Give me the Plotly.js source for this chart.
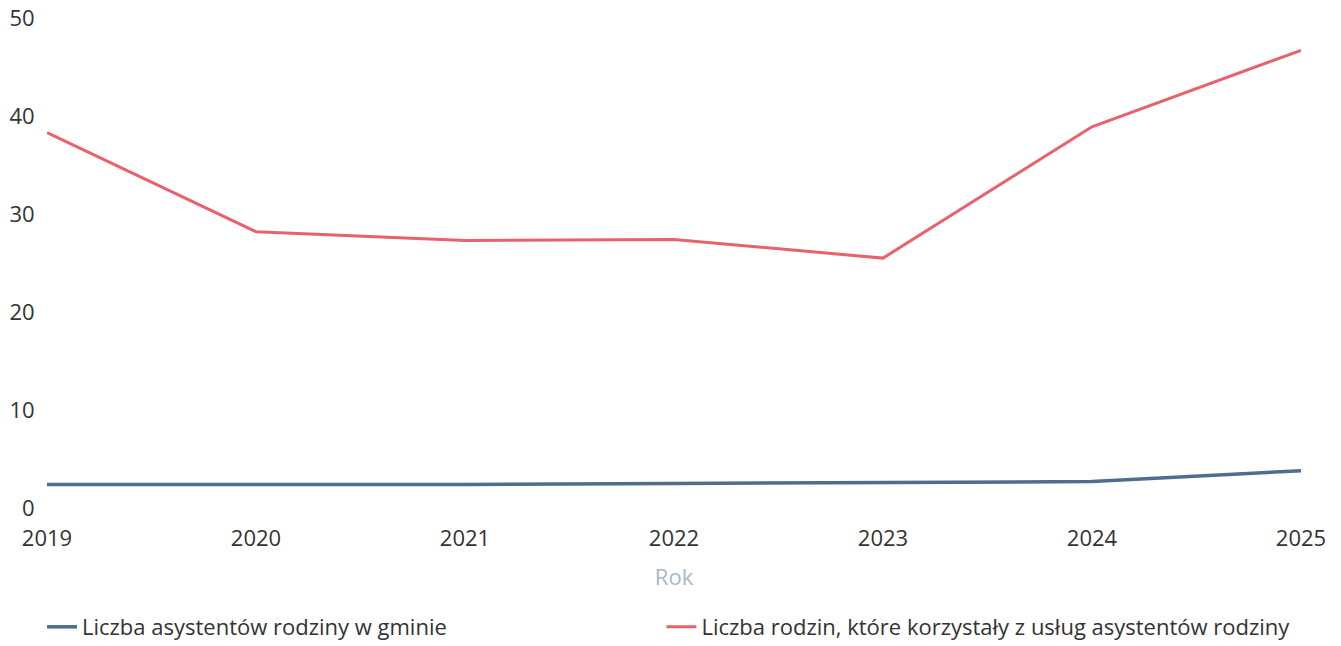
<!DOCTYPE html>
<html>
<head>
<meta charset="utf-8">
<script src="https://cdn.plot.ly/plotly-3.0.1.min.js"></script>
<style>html,body{margin:0;padding:0;background:#fff;}#chart{width:1341px;height:646px;}</style>
</head>
<body>
<div id="chart"></div>
<script>
const years = ['2019', '2020', '2021', '2022', '2023', '2024', '2025'];
const asystenci = [2.4, 2.4, 2.4, 2.5, 2.6, 2.7, 3.8];
const rodziny = [38.3, 28.2, 27.3, 27.4, 25.5, 38.9, 46.7];
const seriesNames = ['Liczba asystentów rodziny w gminie', 'Liczba rodzin, które korzystały z usług asystentów rodziny'];
const yTicks = [0, 10, 20, 30, 40, 50];

const traces = [
  {x: years, y: asystenci, name: seriesNames[0], type: 'scatter', mode: 'lines',
   line: {color: '#4f6d8f', width: 3.5}, legend: 'legend'},
  {x: years, y: rodziny, name: seriesNames[1], type: 'scatter', mode: 'lines',
   line: {color: '#e8616d', width: 3}, legend: 'legend2'}
];

const legendBase = {orientation: 'h', y: -0.2, yanchor: 'top', xanchor: 'left',
  font: {size: 22, color: '#333'}, bgcolor: 'rgba(0,0,0,0)'};

const layout = {
  width: 1341, height: 646,
  margin: {l: 47, r: 40, t: 18, b: 138, autoexpand: false},
  paper_bgcolor: '#fff', plot_bgcolor: '#fff',
  font: {family: 'Open Sans, sans-serif', size: 22, color: '#333'},
  showlegend: true,
  legend: Object.assign({}, legendBase, {x: -0.004}),
  legend2: Object.assign({}, legendBase, {x: 0.49}),
  xaxis: {type: 'category', range: [0, 6], showgrid: false, zeroline: false, showline: false,
          ticks: 'outside', ticklen: 11, tickcolor: 'rgba(0,0,0,0)',
          tickfont: {size: 22, color: '#333'},
          title: {text: 'Rok', font: {size: 22, color: '#a9b8c7'}, standoff: 18}},
  yaxis: {range: [0, 50], tickvals: yTicks, showgrid: false, zeroline: false, showline: false,
          ticks: 'outside', ticklen: 7, tickcolor: 'rgba(0,0,0,0)',
          tickfont: {size: 22, color: '#333'}}
};

Plotly.newPlot('chart', traces, layout, {displayModeBar: false, staticPlot: true});
</script>
</body>
</html>
